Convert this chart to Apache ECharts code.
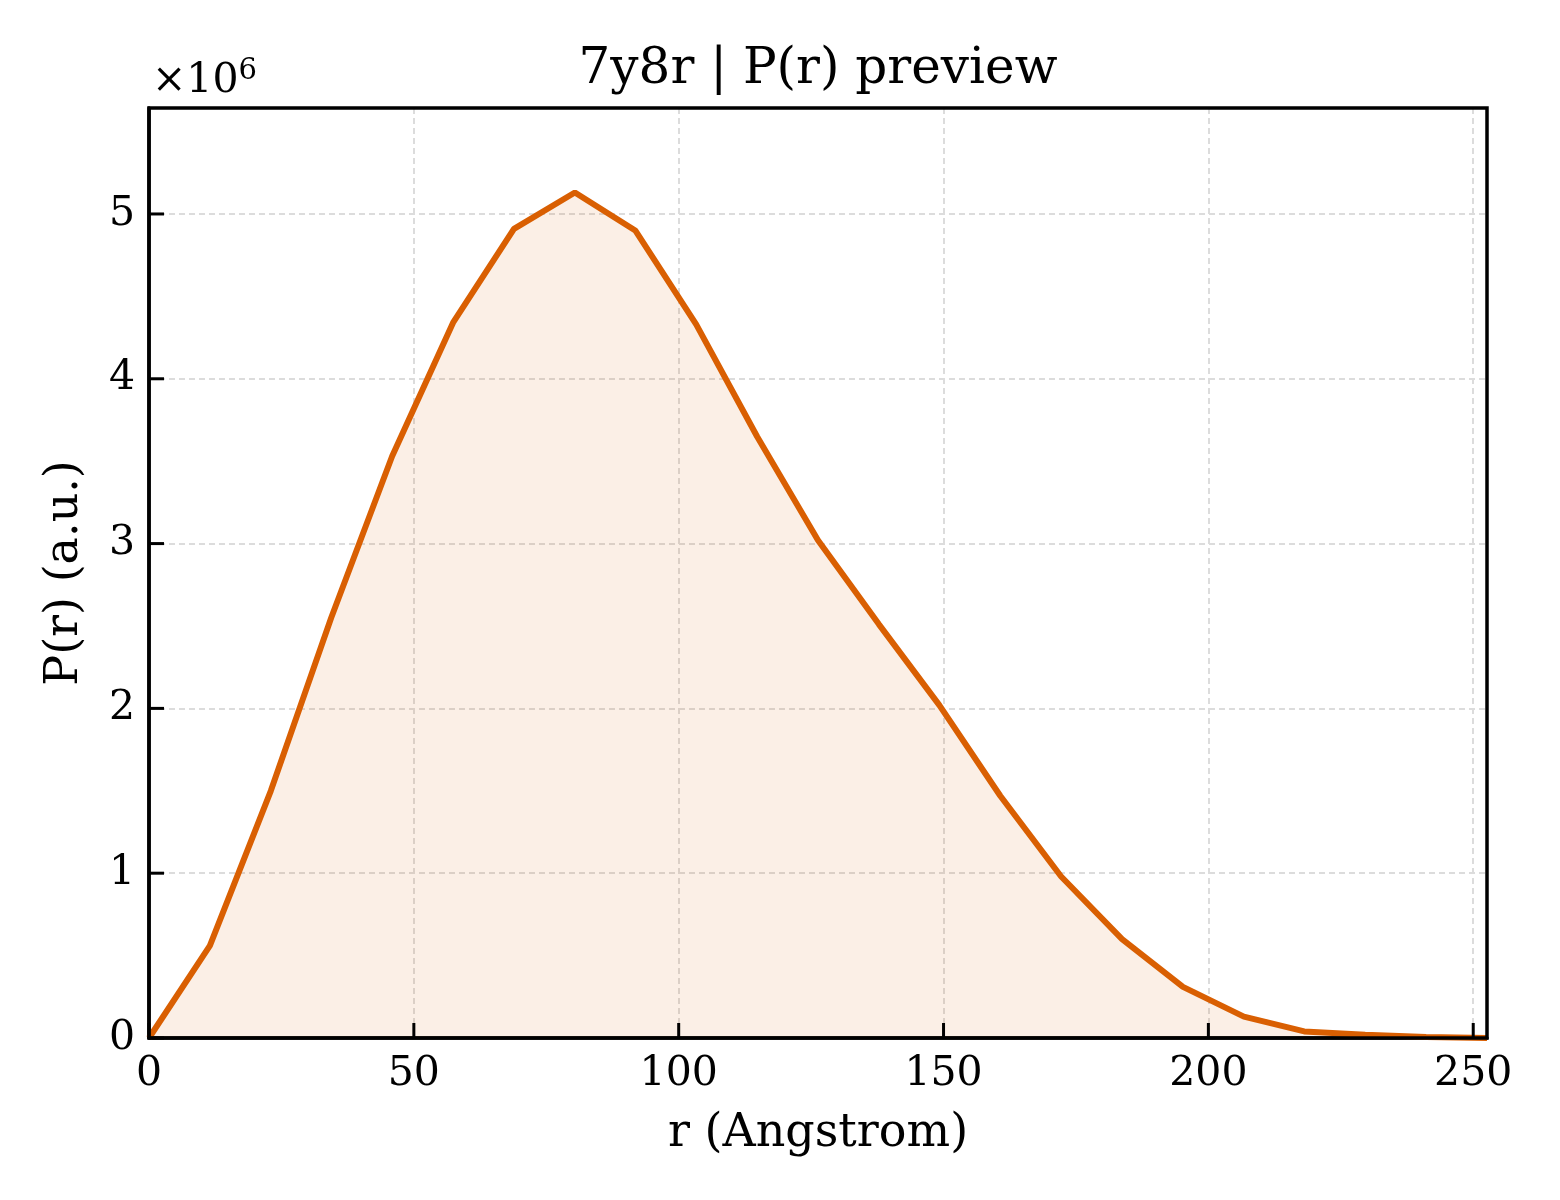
<!DOCTYPE html>
<html>
	<head>
		<meta charset="utf-8">
		<title>7y8r | P(r) preview</title>
		<style type="text/css">
			html, body{
				margin: 0;
				padding: 0;
				background: #fff;
			}
			#chart{
				width: 1560px;
				height: 1200px;
			}
		</style>
	</head>
	<body>
		<div id="chart"></div>

		<script src="https://cdn.jsdelivr.net/npm/echarts@6/dist/echarts.min.js"></script>
		<script>
			// 数据 (P(r) 以 ×10^6 为单位)
			var rValues = [0, 11.5, 23.0, 34.4, 45.9, 57.4, 68.9, 80.4, 91.8, 103.3, 114.8, 126.3,
				137.8, 149.2, 160.7, 172.2, 183.7, 195.2, 206.7, 218.1, 229.6, 241.1, 252.6];
			var prValues = [0, 0.56, 1.50, 2.55, 3.53, 4.34, 4.91, 5.13, 4.90, 4.33, 3.65, 3.02,
				2.51, 2.02, 1.47, 0.98, 0.60, 0.31, 0.13, 0.04, 0.02, 0.006, 0];
			var xTicks = [0, 50, 100, 150, 200, 250];
			var yTicks = [0, 1, 2, 3, 4, 5];

			var font = 'DejaVu Serif';
			var lineColor = '#D95F02';

			var points = rValues.map(function(r, i){
				return [r, prValues[i]];
			});

			var myChart = echarts.init(document.getElementById('chart'));

			var nameText = {
				color: '#000',
				fontFamily: font,
				fontSize: 46
			};

			var gridLine = {
				show: true,
				lineStyle: {color: '#dcdcdc', width: 2, type: [6, 4]}
			};

			var option = {
				animation: false,
				backgroundColor: '#fff',
				grid: {
					left: 149,
					top: 108,
					width: 1338,
					height: 930
				},
				xAxis: {
					type: 'value',
					min: 0,
					max: 252.6,
					interval: 50,
					name: 'r (Angstrom)',
					nameLocation: 'middle',
					nameGap: 73,
					nameTextStyle: nameText,
					axisLine: {
						show: true,
						lineStyle: {color: '#000', width: 3.5}
					},
					axisTick: {show: false},
					axisLabel: {
						color: '#000',
						fontFamily: font,
						fontSize: 41,
						margin: 16,
						showMaxLabel: false,
						formatter: function(v){
							return xTicks.indexOf(v) >= 0 ? String(v) : '';
						}
					},
					splitLine: gridLine
				},
				yAxis: {
					type: 'value',
					min: 0,
					max: 5.643,
					interval: 1,
					name: 'P(r) (a.u.)',
					nameLocation: 'middle',
					nameRotate: 90,
					nameGap: 61,
					nameTextStyle: nameText,
					axisLine: {
						show: true,
						lineStyle: {color: '#000', width: 3.5}
					},
					axisTick: {show: false},
					axisLabel: {
						color: '#000',
						fontFamily: font,
						fontSize: 41,
						margin: 14,
						showMaxLabel: false,
						formatter: function(v){
							return yTicks.indexOf(v) >= 0 ? String(v) : '';
						}
					},
					splitLine: gridLine
				},
				series: [{
					type: 'line',
					data: points,
					symbol: 'none',
					lineStyle: {
						color: lineColor,
						width: 6
					},
					areaStyle: {
						color: 'rgba(217, 95, 2, 0.14)'
					}
				}]
			};

			myChart.setOption(option);

			// 朝内的刻度线、标题和外框 (刻度位置由坐标轴换算)
			var tickLen = 15;
			var graphics = [{
				type: 'text',
				x: 818,
				y: 45,
				style: {
					text: '7y8r | P(r) preview',
					fontFamily: font,
					fontSize: 50,
					fill: '#000',
					textAlign: 'center',
					textVerticalAlign: 'top'
				}
			}, {
				type: 'text',
				left: 152,
				top: 57,
				style: {
					text: '{a|×10}{b|6}',
					fill: '#000',
					rich: {
						a: {fontFamily: font, fontSize: 41, verticalAlign: 'bottom'},
						b: {fontFamily: font, fontSize: 29, verticalAlign: 'top', padding: [0, 0, 16, 0]}
					}
				}
			}, {
				type: 'rect',
				z: 100,
				shape: {x: 149, y: 108, width: 1338, height: 930},
				style: {fill: null, stroke: '#000', lineWidth: 3.5}
			}];

			xTicks.forEach(function(v){
				var p = myChart.convertToPixel({gridIndex: 0}, [v, 0]);
				graphics.push({
					type: 'line',
					z: 100,
					shape: {x1: p[0], y1: p[1], x2: p[0], y2: p[1] - tickLen},
					style: {stroke: '#000', lineWidth: 3}
				});
			});
			yTicks.forEach(function(v){
				var p = myChart.convertToPixel({gridIndex: 0}, [0, v]);
				graphics.push({
					type: 'line',
					z: 100,
					shape: {x1: p[0], y1: p[1], x2: p[0] + tickLen, y2: p[1]},
					style: {stroke: '#000', lineWidth: 3}
				});
			});

			myChart.setOption({graphic: graphics});
		</script>
	</body>
</html>
